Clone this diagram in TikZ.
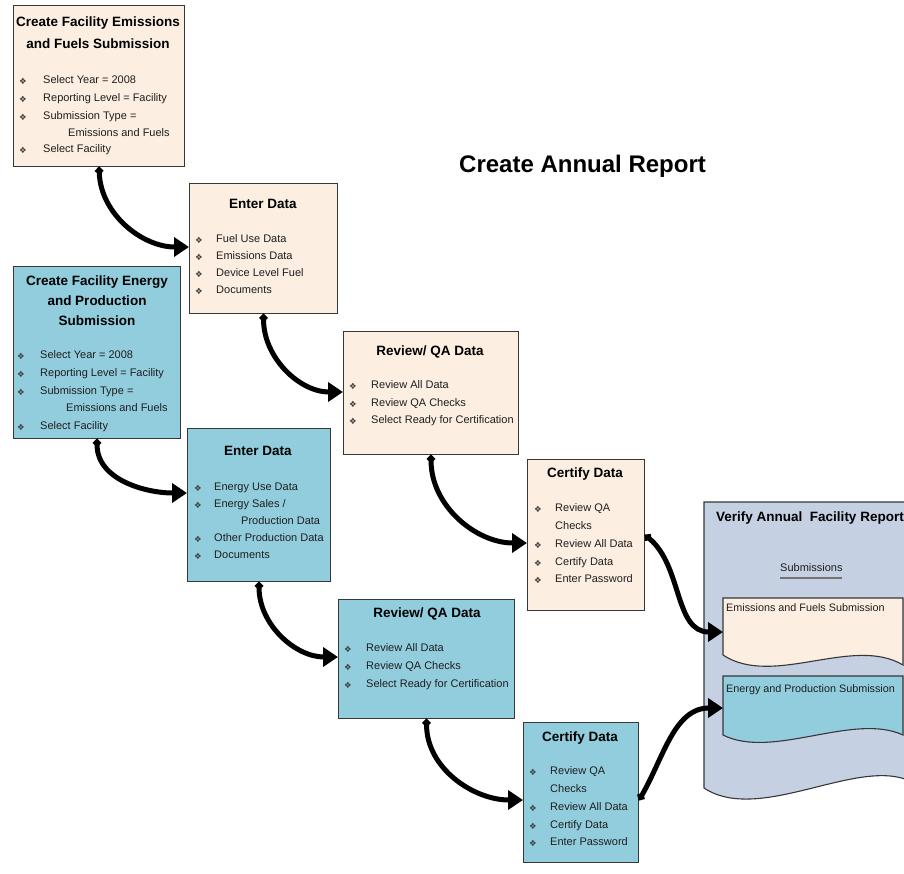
\documentclass[tikz,border=0pt]{standalone}
\usepackage{fontspec}
\setmainfont{Liberation Sans}
\newfontfamily\symfont{DejaVu Sans}
\usetikzlibrary{arrows.meta}

\definecolor{beige}{RGB}{252,238,225}
\definecolor{aqua}{RGB}{146,205,221}
\definecolor{lav}{RGB}{198,208,227}
\definecolor{rim}{RGB}{55,55,55}

\tikzset{
  box/.style={draw=rim, line width=1.1pt, anchor=north west, inner sep=0pt},
  head/.style={font=\fontsize{13.5}{21}\selectfont\bfseries, align=center, inner sep=0pt},
  item/.style={font=\fontsize{11}{13}\selectfont, text=black!88, anchor=west, inner sep=0pt,
    text height=8pt, text depth=2.5pt},
  dot/.style={font=\symfont\fontsize{8.5}{9}\selectfont, text=black!75, anchor=west, inner sep=0pt},
  flow/.style={line width=5pt, {Circle[length=7.5pt]}-{Triangle[length=15pt,width=19pt]}},
}

\begin{document}
\begin{tikzpicture}[x=1pt,y=-1pt]
  \useasboundingbox (0,0) rectangle (904,873);

  % title
  \node[font=\fontsize{24}{26}\selectfont\bfseries, anchor=west, inner sep=0pt] (title) at (459,166) {Create Annual Report};

  % emissions and fuels track
  \node[box, fill=beige, minimum width=171pt, minimum height=161pt] (efsub) at (13,5) {};
  \node[head, font=\fontsize{13.5}{22}\selectfont\bfseries] (efsubh) at (98,33) {Create Facility Emissions\\and Fuels Submission};
  \foreach \y/\t in {81/Select Year = 2008, 99/Reporting Level = Facility, 117/Submission Type =, 150/Select Facility} {
    \node[dot] (efsubd\y) at (19,\y) {❖};
    \node[item] (efsubi\y) at (43,\y) {\t};
  }
  \node[item] (efsubc) at (68,134) {Emissions and Fuels};

  \node[box, fill=beige, minimum width=148pt, minimum height=130pt] (efent) at (189,183) {};
  \node[head] (efenth) at (263,204) {Enter Data};
  \foreach \y/\t in {240/Fuel Use Data, 257/Emissions Data, 274/Device Level Fuel, 291/Documents} {
    \node[dot] (efentd\y) at (195,\y) {❖};
    \node[item] (efenti\y) at (216,\y) {\t};
  }

  \node[box, fill=beige, minimum width=175pt, minimum height=123pt] (efrev) at (343,331) {};
  \node[head] (efrevh) at (430,352) {Review/ QA Data};
  \foreach \y/\t in {386/Review All Data, 404/Review QA Checks, 421/Select Ready for Certification} {
    \node[dot] (efrevd\y) at (349,\y) {❖};
    \node[item] (efrevi\y) at (371,\y) {\t};
  }

  \node[box, fill=beige, minimum width=117pt, minimum height=151pt] (efcert) at (527,459) {};
  \node[head] (efcerth) at (585,474) {Certify Data};
  \foreach \y/\t in {509/Review QA, 545/Review All Data, 563/Certify Data, 580/Enter Password} {
    \node[dot] (efcertd\y) at (534,\y) {❖};
    \node[item] (efcerti\y) at (555,\y) {\t};
  }
  \node[item] (efcertc) at (555,527) {Checks};

  % energy and production track
  \node[box, fill=aqua, minimum width=167pt, minimum height=172pt] (epsub) at (13,266) {};
  \node[head, font=\fontsize{13.5}{20}\selectfont\bfseries] (epsubh) at (97,301) {Create Facility Energy\\and Production\\Submission};
  \foreach \y/\t in {356/Select Year = 2008, 374/Reporting Level = Facility, 392/Submission Type =, 427/Select Facility} {
    \node[dot] (epsubd\y) at (17,\y) {❖};
    \node[item] (epsubi\y) at (40,\y) {\t};
  }
  \node[item] (epsubc) at (66,409) {Emissions and Fuels};

  \node[box, fill=aqua, minimum width=143pt, minimum height=153pt] (epent) at (187,428) {};
  \node[head] (epenth) at (258,451) {Enter Data};
  \foreach \y/\t in {488/{Energy Use Data}, 505/{Energy Sales /}, 539/{Other Production Data}, 556/{Documents}} {
    \node[dot] (epentd\y) at (194,\y) {❖};
    \node[item] (epenti\y) at (214,\y) {\t};
  }
  \node[item] (epentc) at (241,522) {Production Data};

  \node[box, fill=aqua, minimum width=176pt, minimum height=119pt] (eprev) at (338,599) {};
  \node[head] (eprevh) at (427,614) {Review/ QA Data};
  \foreach \y/\t in {649/Review All Data, 667/Review QA Checks, 685/Select Ready for Certification} {
    \node[dot] (eprevd\y) at (344,\y) {❖};
    \node[item] (eprevi\y) at (366,\y) {\t};
  }

  \node[box, fill=aqua, minimum width=115pt, minimum height=140pt] (epcert) at (523,722) {};
  \node[head] (epcerth) at (580,738) {Certify Data};
  \foreach \y/\t in {772/Review QA, 808/Review All Data, 826/Certify Data, 843/Enter Password} {
    \node[dot] (epcertd\y) at (529,\y) {❖};
    \node[item] (epcerti\y) at (550,\y) {\t};
  }
  \node[item] (epcertc) at (550,790) {Checks};

  % verify report with its two submissions
  \fill[lav] (704,502) -- (912,502) -- (912,782) .. controls (860,755) and (760,825) .. (704,788) -- cycle;
  \draw[rim, line width=1.1pt] (912,502) -- (704,502) -- (704,788) .. controls (760,825) and (860,755) .. (912,782);
  \node[font=\fontsize{13.5}{15}\selectfont\bfseries, anchor=west, inner sep=0pt] (verh) at (716,518) {Verify Annual\ \ Facility Report};
  \node[item] (subs) at (780,569) {Submissions};
  \draw[black!55, line width=1.6pt] (780,578) -- (842,578);

  \draw[rim, line width=1.1pt, fill=beige] (723,598) -- (903,598) -- (903,665) .. controls (853,635) and (773,688) .. (723,655) -- cycle;
  \node[font=\fontsize{10.8}{12}\selectfont, text=black!88, anchor=west, inner sep=0pt] (doca) at (726,608) {Emissions and Fuels Submission};
  \coordinate (docain) at (723,632);

  \draw[rim, line width=1.1pt, fill=aqua] (723,676) -- (903,676) -- (903,735) .. controls (853,712) and (773,760) .. (723,735) -- cycle;
  \node[font=\fontsize{10.8}{12}\selectfont, text=black!88, anchor=west, inner sep=0pt] (docb) at (726,690) {Energy and Production Submission};
  \coordinate (docbin) at (723,708);

  % flow arrows
  \draw[flow] (efsub.south) to[out=-88,in=180] ([yshift=-64pt]efent.north west);
  \draw[flow] (efent.south) to[out=-90,in=180] ([yshift=-61pt]efrev.north west);
  \draw[flow] (efrev.south) to[out=-90,in=180] ([yshift=-84pt]efcert.north west);
  \draw[flow] (epsub.south) to[out=-90,in=180] ([yshift=-65pt]epent.north west);
  \draw[flow] (epent.south) to[out=-90,in=180] ([yshift=-58pt]eprev.north west);
  \draw[flow] (eprev.south) to[out=-90,in=180] ([yshift=-78pt]epcert.north west);
  \draw[flow] ([yshift=-76pt]efcert.north east) to[out=-40,in=180] (docain);
  \draw[flow] ([yshift=-78pt]epcert.north east) to[out=60,in=180] (docbin);
\end{tikzpicture}
\end{document}
